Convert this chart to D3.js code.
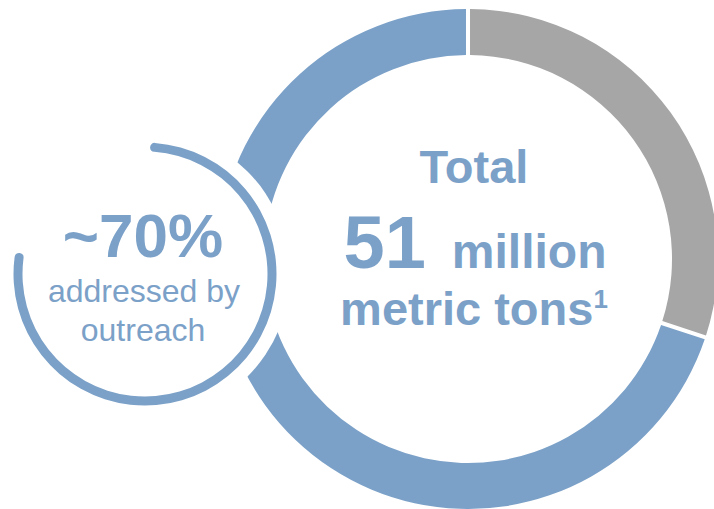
<!DOCTYPE html>
<html>
<head>
<meta charset="utf-8">
<script src="https://cdn.jsdelivr.net/npm/d3@7"></script>
<style>
  html, body { margin: 0; padding: 0; background: #ffffff; }
  svg { display: block; }
  text { font-family: "Liberation Sans", Arial, Helvetica, sans-serif; }
</style>
</head>
<body>
<svg id="chart" width="714" height="509"></svg>
<script>
// ---- data ----
const segments = ["Not addressed", "Addressed by outreach"];
const shares = [30, 70];
const segmentColors = ["#a6a6a6", "#7ba1c8"];
const centerLines = ["Total", "51", "million", "metric tons", "1"];
const calloutLines = ["~70%", "addressed by", "outreach"];
const calloutArcDegrees = [2.3, 279.5];

// ---- layout ----
const svg = d3.select("#chart");
const W = 714, H = 509;
const cx = 468, cy = 259, R = 250, r = 204;
const sx = 145, sy = 274, sr = 127, sw = 9, cutR = 145;
const blue = "#7ba1c8";

const pie = d3.pie().sort(null).value(d => d)
  .startAngle(0).endAngle(2 * Math.PI).padAngle(0.0125);
const arc = d3.arc().innerRadius(r).outerRadius(R);

const g = svg.append("g").attr("transform", `translate(${cx},${cy})`);
g.selectAll("path.seg")
  .data(pie(shares))
  .join("path")
  .attr("class", "seg")
  .attr("d", arc)
  .attr("fill", (d, i) => segmentColors[i]);

// white knock-out around the callout circle
svg.append("circle")
  .attr("cx", sx).attr("cy", sy).attr("r", cutR)
  .attr("fill", "#ffffff");

// callout arc with rounded ends
const toRad = d3.scaleLinear().domain([0, 360]).range([0, 2 * Math.PI]);
const smallArc = d3.arc()
  .innerRadius(sr - sw / 2).outerRadius(sr + sw / 2)
  .cornerRadius(sw / 2);
svg.append("path")
  .attr("transform", `translate(${sx},${sy})`)
  .attr("d", smallArc({ startAngle: toRad(calloutArcDegrees[0]), endAngle: toRad(calloutArcDegrees[1]) }))
  .attr("fill", blue);

// callout text
svg.append("text")
  .attr("x", 143).attr("y", 257)
  .attr("text-anchor", "middle")
  .attr("font-weight", "bold").attr("font-size", 62)
  .attr("fill", blue)
  .text(calloutLines[0]);
svg.append("text")
  .attr("x", 144).attr("y", 302)
  .attr("text-anchor", "middle")
  .attr("font-size", 32)
  .attr("fill", blue)
  .text(calloutLines[1]);
svg.append("text")
  .attr("x", 143).attr("y", 341)
  .attr("text-anchor", "middle")
  .attr("font-size", 32)
  .attr("fill", blue)
  .text(calloutLines[2]);

// center text
const tx = 474;
svg.append("text")
  .attr("x", tx).attr("y", 183)
  .attr("text-anchor", "middle")
  .attr("font-weight", "bold").attr("font-size", 47)
  .attr("fill", blue)
  .text(centerLines[0]);

const line2 = svg.append("text")
  .attr("x", tx + 1).attr("y", 268)
  .attr("text-anchor", "middle")
  .attr("font-weight", "bold")
  .attr("fill", blue);
line2.append("tspan").attr("font-size", 74).text(centerLines[1]);
line2.append("tspan").attr("font-size", 48).attr("dx", 26).text(centerLines[2]);

const line3 = svg.append("text")
  .attr("x", tx).attr("y", 325)
  .attr("text-anchor", "middle")
  .attr("font-weight", "bold")
  .attr("fill", blue);
line3.append("tspan").attr("font-size", 47).text(centerLines[3]);
line3.append("tspan").attr("font-size", 26).attr("dy", -17).text(centerLines[4]);
</script>
</body>
</html>
